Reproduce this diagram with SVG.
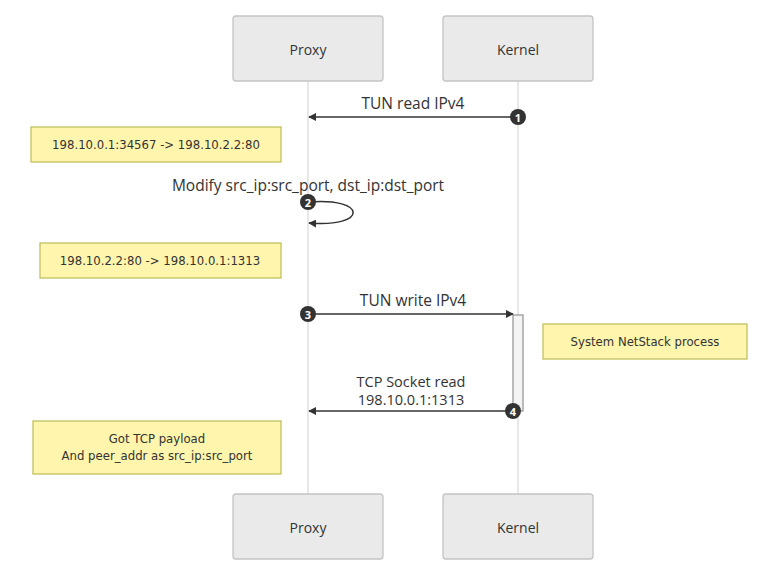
<svg xmlns="http://www.w3.org/2000/svg" width="779" height="579" viewBox="0 0 779 579">
<style>
.actor{fill:#eaeaea;stroke:#c4c4c4;stroke-width:1.3}
.atext{font-family:"Open Sans","Liberation Sans",sans-serif;font-size:14px;fill:#333;text-anchor:middle;dominant-baseline:central}
.life{stroke:#e0e0e0;stroke-width:1.5}
.msg{stroke:#333;stroke-width:1.5;fill:none}
.mtext{font-family:"Open Sans","Liberation Sans",sans-serif;font-size:15.5px;fill:#333;text-anchor:middle}
.mtext2{font-family:"Open Sans","Liberation Sans",sans-serif;font-size:14.5px;fill:#333;text-anchor:middle}
.note{fill:#fff5ad;stroke:#c0c060;stroke-width:1.3}
.ntext{font-family:"DejaVu Sans","Liberation Sans",sans-serif;font-size:11.7px;fill:#333;text-anchor:middle}
.num{fill:#333}
.ntx{font-family:"Open Sans","Liberation Sans",sans-serif;font-size:11px;font-weight:bold;fill:#fff;text-anchor:middle;dominant-baseline:central}
.act{fill:#f4f4f4;stroke:#999;stroke-width:1.3}
</style>
<defs>
<marker id="arr" viewBox="0 0 10 10" refX="9" refY="5" markerWidth="8" markerHeight="8" markerUnits="userSpaceOnUse" orient="auto">
<path d="M0,0 L10,5 L0,10 z" fill="#333"/>
</marker>
</defs>
<rect width="779" height="579" fill="#fff"/>
<g id="lifelines">
<line class="life" x1="308" y1="81" x2="308" y2="494"/>
<line class="life" x1="518" y1="81" x2="518" y2="494"/>
</g>
<g id="activation">
<rect class="act" x="513" y="315" width="10" height="96"/>
</g>
<g id="actor-proxy-top"><rect class="actor" x="233" y="16" width="150" height="65" rx="3"/><text class="atext" x="308" y="49">Proxy</text></g>
<g id="actor-kernel-top"><rect class="actor" x="443" y="16" width="150" height="65" rx="3"/><text class="atext" x="518" y="49">Kernel</text></g>
<g id="actor-proxy-bottom"><rect class="actor" x="233" y="494" width="150" height="65" rx="3"/><text class="atext" x="308" y="527">Proxy</text></g>
<g id="actor-kernel-bottom"><rect class="actor" x="443" y="494" width="150" height="65" rx="3"/><text class="atext" x="518" y="527">Kernel</text></g>
<g id="note1"><rect class="note" x="31" y="127" width="250" height="35"/><text class="ntext" x="156" y="149">198.10.0.1:34567 -&gt; 198.10.2.2:80</text></g>
<g id="note2"><rect class="note" x="40" y="243" width="241" height="35"/><text class="ntext" x="160" y="265">198.10.2.2:80 -&gt; 198.10.0.1:1313</text></g>
<g id="note3"><rect class="note" x="543" y="324" width="204" height="35"/><text class="ntext" x="645" y="346">System NetStack process</text></g>
<g id="note4"><rect class="note" x="33" y="421" width="248" height="53"/><text class="ntext" x="157" y="443">Got TCP payload</text><text class="ntext" x="157" y="460">And peer_addr as src_ip:src_port</text></g>
<g id="connectors">
<line class="msg" x1="518" y1="117" x2="309" y2="117" marker-end="url(#arr)"/>
<text class="mtext" x="413" y="109">TUN read IPv4</text>
<path class="msg" d="M308,202 C368,197 368,228 309,223" marker-end="url(#arr)"/>
<text class="mtext" x="308" y="191">Modify src_ip:src_port, dst_ip:dst_port</text>
<line class="msg" x1="308" y1="314" x2="513" y2="314" marker-end="url(#arr)"/>
<text class="mtext" x="413" y="306">TUN write IPv4</text>
<line class="msg" x1="513" y1="411" x2="309" y2="411" marker-end="url(#arr)"/>
<text class="mtext2" x="411" y="387">TCP Socket read</text>
<text class="mtext2" x="411" y="405">198.10.0.1:1313</text>
</g>
<g id="seq-numbers">
<circle class="num" cx="518" cy="117" r="8"/><text class="ntx" x="518" y="117">1</text>
<circle class="num" cx="308" cy="202" r="8"/><text class="ntx" x="308" y="202">2</text>
<circle class="num" cx="308" cy="314" r="8"/><text class="ntx" x="308" y="314">3</text>
<circle class="num" cx="513" cy="411" r="8"/><text class="ntx" x="513" y="411">4</text>
</g>
</svg>
